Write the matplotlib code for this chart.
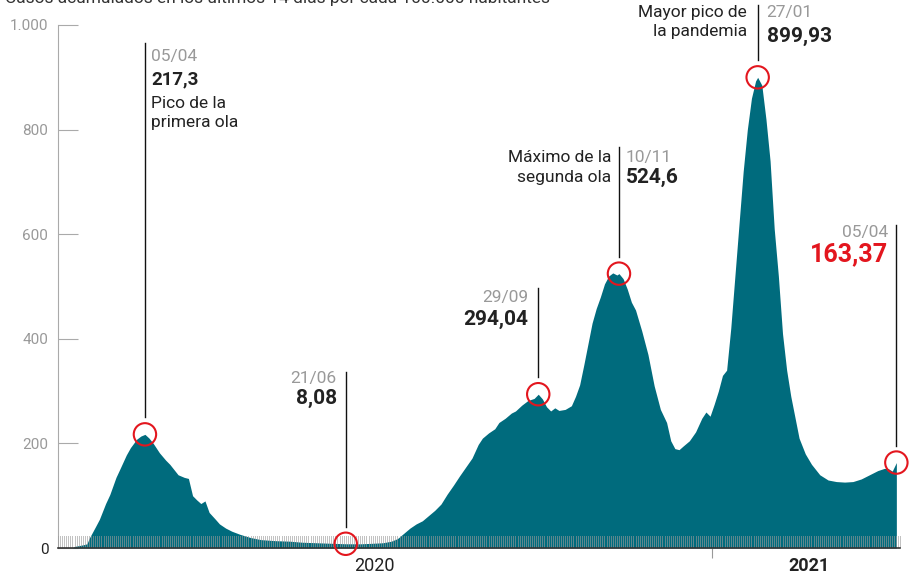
import matplotlib
matplotlib.use("Agg")
import matplotlib.pyplot as plt
import numpy as np

plt.rcParams['font.family'] = ['Roboto', 'DejaVu Sans']

# ---- data (day index from start of series, value = cases per 100k, 14 days) ----
days = [0, 7, 8, 12, 14, 15, 18, 20, 23, 25, 28, 30, 33, 35, 38, 40, 42, 44, 46, 49,
        52, 54, 56, 58, 61, 63, 65, 67, 69, 71, 73, 76, 78, 81, 84, 88, 93, 98, 105, 112,
        118, 125, 132, 139, 146, 152, 157, 161, 164, 167, 170, 173, 176, 179, 182, 185, 188,
        191, 194, 197, 200, 203, 205, 208, 211, 213, 216, 219, 221, 224, 227, 230, 232, 234,
        236, 238, 240, 242, 245, 248, 250, 252, 254, 256, 258, 260, 262, 264, 266, 268, 270,
        271, 273, 275, 277, 279, 282, 285, 288, 291, 294, 296, 298, 300, 302, 305, 308, 311,
        313, 315, 317, 319, 321, 323, 325, 327, 329, 331, 333, 335, 337, 338, 340, 342, 344,
        346, 348, 350, 352, 354, 356, 358, 361, 364, 368, 372, 376, 380, 384, 388, 392, 396,
        399, 401, 403, 405]
values = [0, 0, 3, 6, 8, 18, 40, 55, 85, 102, 135, 152, 178, 192, 208, 214, 217.3, 210, 200, 182,
          168, 160, 150, 140, 135, 133, 100, 92, 85, 90, 68, 55, 46, 38, 32, 26, 20, 16, 14, 13,
          11, 10, 9, 8.08, 8, 9, 10, 13, 18, 28, 38, 46, 52, 62, 72, 84, 103,
          120, 138, 155, 172, 198, 210, 220, 228, 240, 248, 258, 262, 273, 282, 286, 294.04, 285,
          270, 262, 268, 263, 265, 272, 290, 312, 350, 390, 430, 458, 480, 505, 520, 526, 522,
          524.6, 515, 495, 470, 455, 415, 370, 310, 265, 240, 205, 190, 188, 195, 205, 222, 248,
          260, 252, 275, 300, 330, 340, 420, 520, 620, 720, 800, 860, 893, 899.93, 885, 820, 740,
          610, 520, 410, 340, 290, 250, 210, 180, 160, 140, 130, 127, 126, 127, 132, 140, 148,
          152, 152, 147, 163.37]

n_days = 407
year_tick_day = 316
year_labels = ["2020", "2021"]
year_label_days = [153, 363]

# annotations
ann_days = [42, 139, 232, 271, 338, 405]
ann_values = [217.3, 8.08, 294.04, 524.6, 899.93, 163.37]
ann_dates = ["05/04", "21/06", "29/09", "10/11", "27/01", "05/04"]
ann_vlabels = ["217,3", "8,08", "294,04", "524,6", "899,93", "163,37"]
ann_notes = [["Pico de la", "primera ola"], [], [], ["Máximo de la", "segunda ola"],
             ["Mayor pico de", "la pandemia"], []]

TEAL = "#006b7d"
RED = "#e3161e"
GREY = "#999999"
DARK = "#222222"

W, H = 909, 575
fig = plt.figure(figsize=(W / 100, H / 100), dpi=100)
ax_left, ax_right, ax_top, ax_bottom = 58, 900.5, 25, 548
ax = fig.add_axes([ax_left / W, 1 - ax_bottom / H, (ax_right - ax_left) / W, (ax_bottom - ax_top) / H])
ax.set_xlim(0, n_days)
ax.set_ylim(0, 1000)

ppx = (ax_right - ax_left) / n_days      # pixels per day
ppy = (ax_bottom - ax_top) / 1000.0      # pixels per unit

def ypx(v):
    return v / ppy

ax.fill_between(days, values, 0, color=TEAL, lw=0, zorder=2)

# daily ticks along the base
ax.vlines(np.arange(0, n_days + 1), 0, ypx(12), color="#9a9a9a", alpha=0.6, lw=0.72,
          antialiased=False, zorder=3)

for s in ["top", "right"]:
    ax.spines[s].set_visible(False)
ax.spines["left"].set_color("#aaaaaa")
ax.spines["left"].set_linewidth(0.8)
ax.spines["bottom"].set_color("#333333")
ax.spines["bottom"].set_linewidth(1.2)
ax.spines["bottom"].set_zorder(5)

yt = [0, 200, 400, 600, 800, 1000]
ax.set_yticks(yt)
ax.set_yticklabels(["0", "200", "400", "600", "800", "1.000"])
ax.tick_params(axis="y", direction="in", length=14.5, width=0.8, color="#aaaaaa",
               labelsize=11, labelcolor=GREY, pad=7)
ax.get_yticklabels()[0].set_color("#222222")
ax.set_xticks([year_tick_day])
ax.set_xticklabels([""])
ax.tick_params(axis="x", direction="out", length=7, width=0.8, color="#999999")

for lab, d in zip(year_labels, year_label_days):
    ax.text(d, -ypx(18), lab, ha="center", va="center", fontsize=13, color=DARK,
            fontweight="bold" if lab == "2021" else "normal")

# title (partly cut off at top, as in reference)
fig.text(5 / W, 1 - 3 / H, "Casos acumulados en los últimos 14 días por cada 100.000 habitantes",
         ha="left", va="baseline", fontsize=12.5, color="#333333")

ax.scatter(ann_days, ann_values, s=260, facecolors="none", edgecolors=RED, linewidths=1.5,
           zorder=6, clip_on=False)

line_tops = [43, 372, 288, 147, 5, 225]
text_cfg = [
    dict(dx=6, ha="left", dy=[61, 84], notes_y=[108, 127], note_dx=6, note_ha="left", vsize=13.5),
    dict(dx=-9, ha="right", dy=[383, 404], vsize=15),
    dict(dx=-10, ha="right", dy=[302, 325], vsize=15),
    dict(dx=7, ha="left", dy=[162, 183], notes_y=[162, 182], note_dx=-8, note_ha="right", vsize=15),
    dict(dx=9, ha="left", dy=[17, 42], notes_y=[17, 36], note_dx=-11, note_ha="right", vsize=15),
    dict(dx=-8, ha="right", dy=[237, 261], vsize=18, vcolor=RED),
]

for i, (d, v) in enumerate(zip(ann_days, ann_values)):
    cfg = text_cfg[i]
    top_val = (ax_bottom - line_tops[i]) / ppy
    ax.plot([d, d], [v + ypx(17), top_val], color="#111111", lw=1.0, zorder=4, clip_on=False)
    tx = d + cfg["dx"] / ppx
    ax.text(tx, (ax_bottom - cfg["dy"][0]) / ppy, ann_dates[i], ha=cfg["ha"], va="baseline",
            fontsize=12.5, color=GREY, clip_on=False)
    ax.text(tx, (ax_bottom - cfg["dy"][1]) / ppy, ann_vlabels[i], ha=cfg["ha"], va="baseline",
            fontsize=cfg["vsize"], fontweight="bold", color=cfg.get("vcolor", DARK), clip_on=False)
    for line, ny in zip(ann_notes[i], cfg.get("notes_y", [])):
        ax.text(d + cfg["note_dx"] / ppx, (ax_bottom - ny) / ppy, line, ha=cfg["note_ha"],
                va="baseline", fontsize=12.5, color=DARK, clip_on=False)

fig.savefig("out.png", dpi=100)
